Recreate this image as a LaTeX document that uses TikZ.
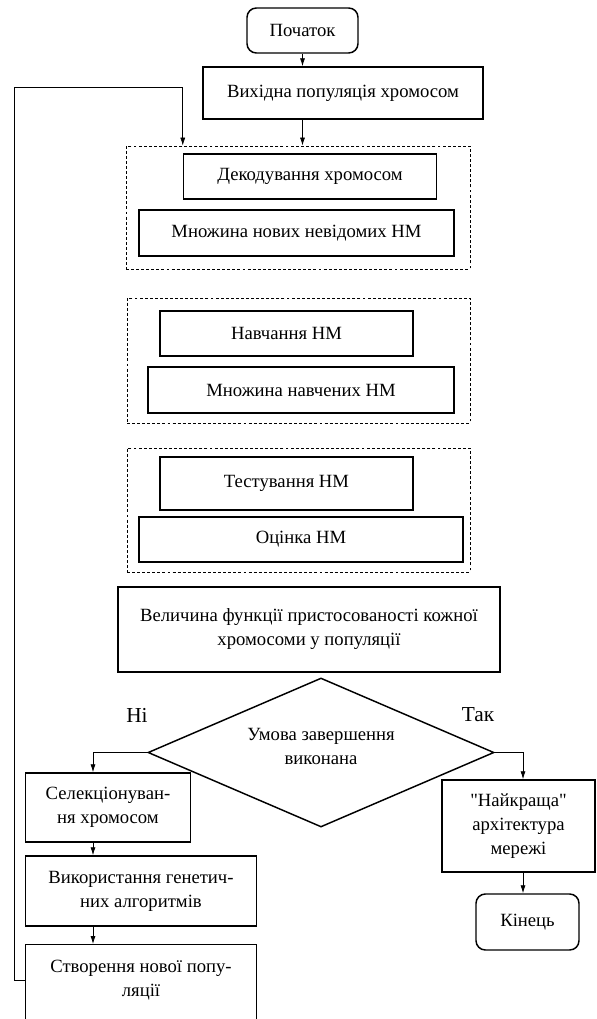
\documentclass[tikz,border=0pt]{standalone}
\usepackage{fontspec}
\newfontfamily\tnr{Liberation Serif}
\usetikzlibrary{arrows.meta,shapes.geometric}

\tikzset{
blk/.style={draw, line width=1.1pt, inner sep=0pt, align=center, font=\tnr\fontsize{14pt}{18pt}\selectfont},
term/.style={blk, rounded corners=7pt},
grp/.style={draw, line width=0.6pt, dash pattern=on 2.2pt off 1.6pt, inner sep=0pt},
lbl/.style={font=\tnr\fontsize{16pt}{19pt}\selectfont},
arr/.style={-{Latex[length=6pt,width=3.8pt]}, line width=0.6pt},
}

\begin{document}
\begin{tikzpicture}[x=0.75pt,y=-0.75pt]
\useasboundingbox (0,0) rectangle (596,1019);

\node[term, minimum width=83.25pt, minimum height=33.75pt] (start) at (302.5,30.5) {Початок};
\node[blk, minimum width=210pt, minimum height=39pt] (init) at (343,93) {Вихідна популяція хромосом};

\node[grp, minimum width=258pt, minimum height=92.25pt] (grp1) at (298,207.5) {};
\node[blk, minimum width=189.75pt, minimum height=33.75pt] (dec) at (310,176.5) {Декодування хромосом};
\node[blk, minimum width=236.25pt, minimum height=34.5pt] (newnm) at (296.5,233) {Множина нових невідомих НМ};

\node[grp, minimum width=257.25pt, minimum height=93.75pt] (grp2) at (298.5,360.5) {};
\node[blk, minimum width=189.75pt, minimum height=33.75pt] (train) at (286.5,333.5) {Навчання НМ};
\node[blk, minimum width=229.5pt, minimum height=34.5pt] (trained) at (301,390) {Множина навчених НМ};

\node[grp, minimum width=257.25pt, minimum height=93pt] (grp3) at (298.5,510) {};
\node[blk, minimum width=189.75pt, minimum height=39.75pt] (test) at (286.5,483.5) {Тестування НМ};
\node[blk, minimum width=243pt, minimum height=33.75pt] (eval) at (301,539.5) {Оцінка НМ};

\node[blk, minimum width=286.5pt, minimum height=63.75pt] (fit) at (309,629.5) {Величина функції пристосованості кожної\\хромосоми у популяції};
\node[blk, shape=diamond, aspect=2.32, minimum width=259.5pt, minimum height=111.75pt] (cond) at (321,752.5) {};
\node[blk, draw=none] (condtxt) at (321,746) {Умова завершення\\виконана};
\node[lbl] (no) at (137,715) {Ні};
\node[lbl] (yes) at (478,715) {Так};

\node[blk, minimum width=124.1pt, minimum height=51.75pt] (sel) at (108,807.5) {Селекціонуван-\\ня хромосом};
\node[blk, minimum width=173.25pt, minimum height=52.5pt] (use) at (141,891) {Використання генетич-\\них алгоритмів};
\node[blk, minimum width=173.25pt, minimum height=75pt, anchor=north] (create) at (141,944) {};
\node[blk, draw=none] (createtxt) at (141,980) {Створення нової попу-\\ляції};

\node[blk, minimum width=114.75pt, minimum height=69pt] (best) at (518.5,826) {"Найкраща"\\архітектура\\мережі};
\node[term, minimum width=77.25pt, minimum height=42pt] (fin) at (527.5,922) {Кінець};

\coordinate (lx) at (93,0);
\coordinate (rx) at (523,0);
\coordinate (ret) at (14,87);

\draw[arr] (start.south) -- (start.south |- init.north);
\draw[arr] (start.south |- init.south) -- (start.south |- grp1.north);
\draw[arr] (cond.west) -| (lx |- sel.north);
\draw[arr] (lx |- sel.south) -- (lx |- use.north);
\draw[arr] (lx |- use.south) -- (lx |- create.north);
\draw[arr] (cond.east) -| (rx |- best.north);
\draw[arr] (rx |- best.south) -- (rx |- fin.north);
\draw[arr, line width=0.5pt] (create.west |- createtxt) -| (ret) -| (dec.west |- grp1.north);

\end{tikzpicture}
\end{document}
